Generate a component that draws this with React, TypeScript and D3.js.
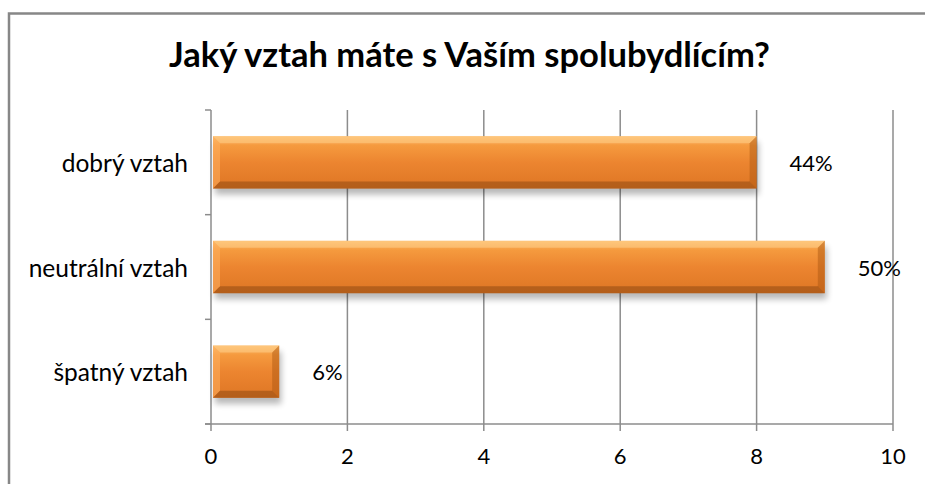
import React from "react";
import * as d3 from "d3";

const categories = ["dobrý vztah", "neutrální vztah", "špatný vztah"];
const values = [8, 9, 1];
const labels = ["44%", "50%", "6%"];
const xTicks = [0, 2, 4, 6, 8, 10];
const title = "Jaký vztah máte s Vaším spolubydlícím?";

const W = 925;
const H = 484;
const FONT = "Lato, 'Open Sans', sans-serif";

export default function App() {
  const left = 211, right = 893, top = 110, bottom = 424;
  const x = d3.scaleLinear().domain([0, 10]).range([left, right]);
  const y = d3.scaleBand().domain(categories).range([top, bottom]).paddingInner(0.5).paddingOuter(0.25);
  const bh = y.bandwidth();
  const bevel = 7;
  const boundaries = d3.range(categories.length + 1).map((i) => top + (i * (bottom - top)) / categories.length);

  return (
    <svg width={W} height={H} style={{ position: "absolute", left: 0, top: 0, background: "#fff" }}>
      <defs>
        <linearGradient id="barG" x1="0" y1="0" x2="0" y2="1">
          <stop offset="0" stopColor="#fdbb6a" />
          <stop offset="0.18" stopColor="#f59a3e" />
          <stop offset="0.5" stopColor="#ec8530" />
          <stop offset="1" stopColor="#de7624" />
        </linearGradient>
        <filter id="shadow" x="-10%" y="-30%" width="120%" height="180%">
          <feGaussianBlur stdDeviation="3" />
        </filter>
      </defs>
      <rect x={9} y={13.5} width={W + 20} height={H + 20} fill="#fff" stroke="#878787" strokeWidth={2.5} />
      <text x={469.5} y={67} textAnchor="middle" fontFamily={FONT} fontWeight="bold" fontSize={34.5} fill="#000">
        {title}
      </text>
      {xTicks.map((t) => (
        <line key={"g" + t} x1={x(t)} x2={x(t)} y1={top} y2={bottom + 7} stroke="#8c8c8c" strokeWidth={1.5} />
      ))}
      <line x1={left - 6} x2={right} y1={bottom} y2={bottom} stroke="#8c8c8c" strokeWidth={1.5} />
      {boundaries.map((b, i) => (
        <line key={"yt" + i} x1={left - 6} x2={left} y1={b} y2={b} stroke="#8c8c8c" strokeWidth={1.5} />
      ))}
      {categories.map((c, i) => {
        const x0 = x(0) + 2;
        const x1 = x(values[i]);
        const y0 = y(c)!;
        const w = x1 - x0;
        return (
          <g key={c}>
            <rect x={x0 + 2} y={y0 + 6} width={w} height={bh} fill="#000" opacity={0.28} filter="url(#shadow)" />
            <rect x={x0} y={y0} width={w} height={bh} fill="url(#barG)" />
            <polygon
              points={`${x0},${y0} ${x0 + bevel},${y0 + bevel} ${x0 + bevel},${y0 + bh - bevel} ${x0},${y0 + bh}`}
              fill="#ffb060"
              opacity={0.55}
            />
            <polygon
              points={`${x0},${y0} ${x1},${y0} ${x1 - bevel},${y0 + bevel} ${x0 + bevel},${y0 + bevel}`}
              fill="#ffd08a"
              opacity={0.55}
            />
            <polygon
              points={`${x1},${y0} ${x1},${y0 + bh} ${x1 - bevel},${y0 + bh - bevel} ${x1 - bevel},${y0 + bevel}`}
              fill="#a85510"
              opacity={0.45}
            />
            <polygon
              points={`${x0},${y0 + bh} ${x1},${y0 + bh} ${x1 - bevel},${y0 + bh - bevel} ${x0 + bevel},${y0 + bh - bevel}`}
              fill="#8a4510"
              opacity={0.5}
            />
            <text x={x1 + 33} y={y0 + bh / 2} dominantBaseline="central" fontFamily={FONT} fontSize={22} fill="#000">
              {labels[i]}
            </text>
            <text x={188} y={y0 + bh / 2} textAnchor="end" dominantBaseline="central" fontFamily={FONT} fontSize={24.5} fill="#000">
              {c}
            </text>
          </g>
        );
      })}
      {xTicks.map((t) => (
        <text key={"t" + t} x={x(t)} y={455} textAnchor="middle" dominantBaseline="central" fontFamily={FONT} fontSize={22} fill="#000">
          {t}
        </text>
      ))}
    </svg>
  );
}
